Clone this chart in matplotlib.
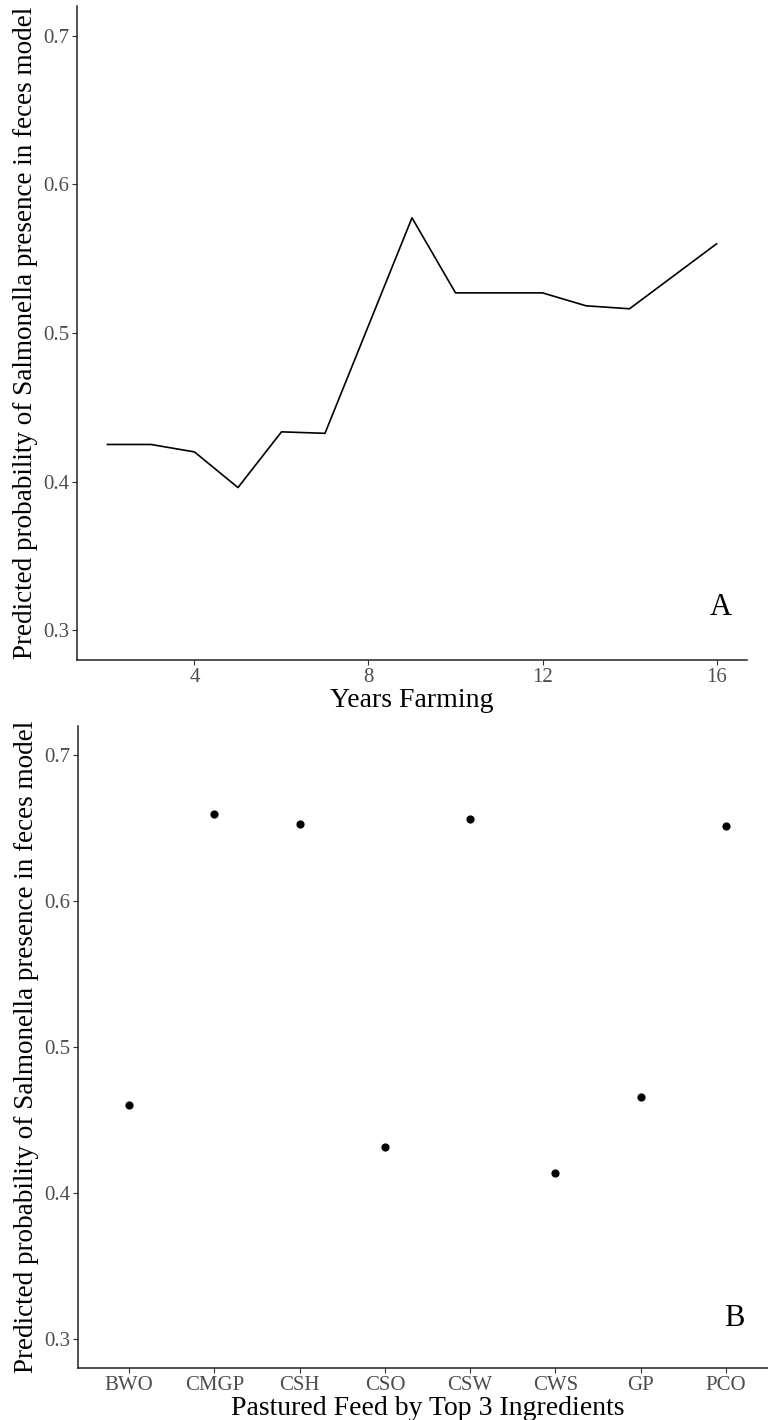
import matplotlib.pyplot as plt

# values
years = [2, 3, 4, 5, 6, 7, 9, 10, 11, 12, 13, 14, 16]
prob_years = [0.425, 0.425, 0.420, 0.396, 0.4335, 0.4325, 0.5775, 0.527, 0.527, 0.527, 0.5183, 0.5163, 0.560]

feeds = ["BWO", "CMGP", "CSH", "CSO", "CSW", "CWS", "GP", "PCO"]
prob_feeds = [0.460, 0.660, 0.6527, 0.4315, 0.656, 0.4135, 0.4655, 0.6515]

yticks = [0.3, 0.4, 0.5, 0.6, 0.7]
ylab = "Predicted probability of Salmonella presence in feces model"

plt.rcParams['font.family'] = ['Liberation Serif', 'DejaVu Serif']
tick_col = '#4D4D4D'

fig = plt.figure(figsize=(7.68, 14.2), dpi=100)
W, H = 768, 1420


def style(ax):
    for s in ['top', 'right']:
        ax.spines[s].set_visible(False)
    for s in ['left', 'bottom']:
        ax.spines[s].set_linewidth(1.1)
        ax.spines[s].set_color('#222222')
    ax.tick_params(axis='both', colors='#333333', labelcolor=tick_col,
                   labelsize=15, length=3.5, width=0.8, pad=2)
    ax.set_ylim(0.28, 0.72)
    ax.set_yticks(yticks)
    ax.set_yticklabels([f"{v:.1f}" for v in yticks])
    ax.set_ylabel(ylab, fontsize=19.5, color='black', labelpad=4)


# panel A
ax1 = fig.add_axes([77 / W, 1 - 660 / H, 670 / W, 654 / H])
ax1.plot(years, prob_years, color='black', lw=1.2)
ax1.set_xlim(1.3, 16.7)
ax1.set_xticks([4, 8, 12, 16])
style(ax1)
ax1.set_xlabel("Years Farming", fontsize=20, color='black', labelpad=1)
ax1.text(16.1, 0.315, "A", fontsize=22, ha='center', va='center')

# panel B
ax2 = fig.add_axes([78 / W, 1 - 1368 / H, 699 / W, 642 / H])
xpos = list(range(1, len(feeds) + 1))
ax2.scatter(xpos, prob_feeds, s=24, color='black', zorder=3)
ax2.set_xlim(0.4, 8.6)
ax2.set_xticks(xpos)
ax2.set_xticklabels(feeds)
style(ax2)
ax2.set_xlabel("Pastured Feed by Top 3 Ingredients", fontsize=20, color='black', labelpad=1)
ax2.text(8.1, 0.314, "B", fontsize=22, ha='center', va='center')

fig.savefig("out.png", dpi=100)
